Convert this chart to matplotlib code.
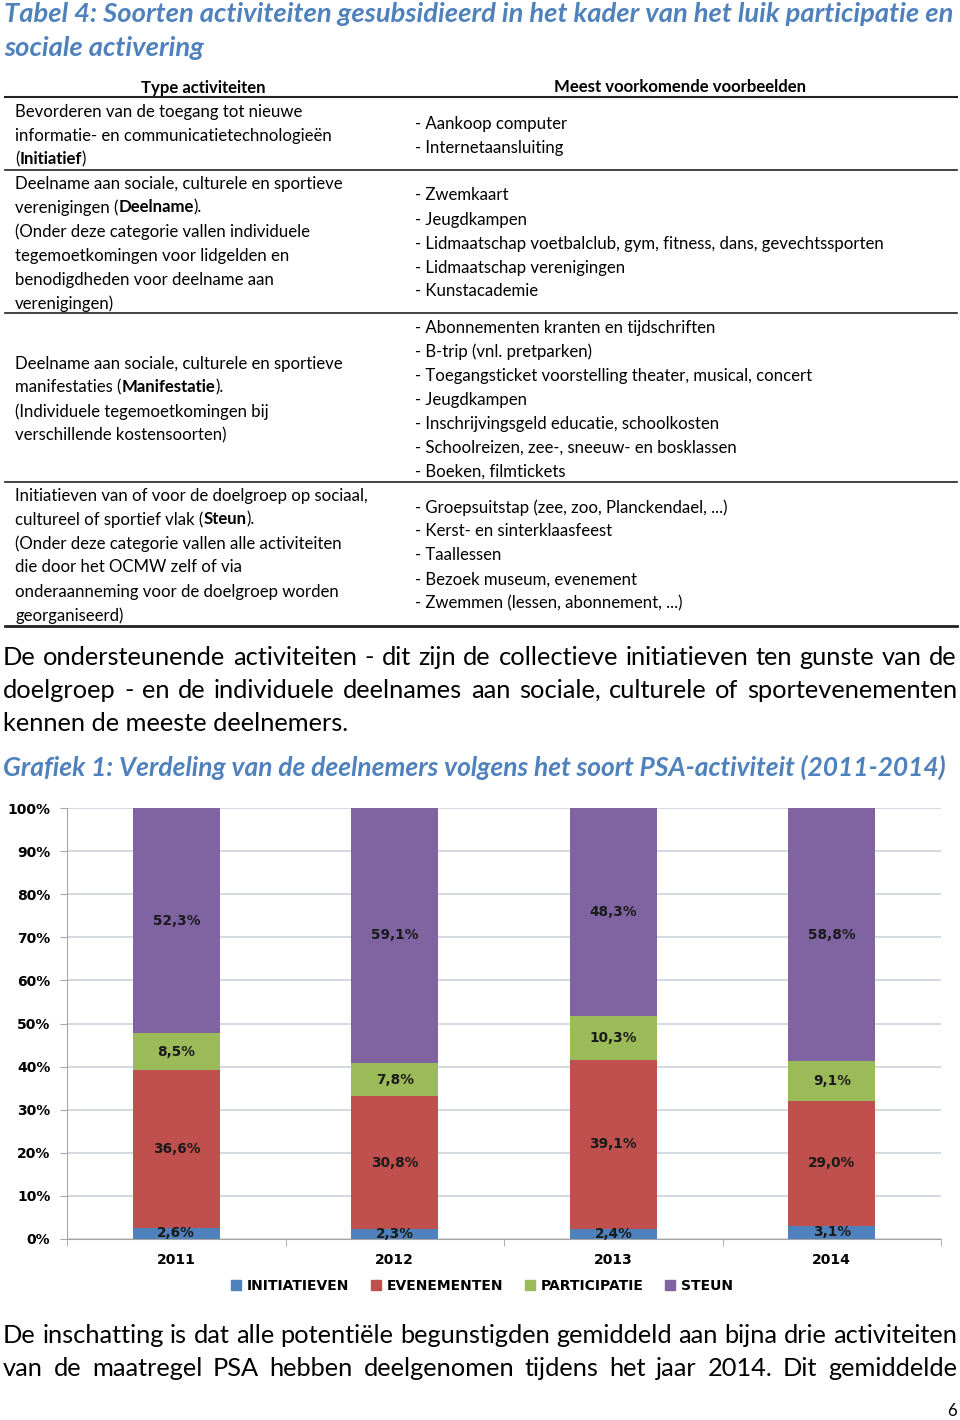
import numpy as np
import matplotlib.pyplot as plt
from matplotlib.patches import Patch

# chart data (percent of participants)
years = ['2011', '2012', '2013', '2014']
initiatieven = [2.6, 2.3, 2.4, 3.1]
evenementen = [36.6, 30.8, 39.1, 29.0]
participatie = [8.5, 7.8, 10.3, 9.1]
steun = [52.3, 59.1, 48.3, 58.8]
series_names = ['INITIATIEVEN', 'EVENEMENTEN', 'PARTICIPATIE', 'STEUN']
y_ticks = list(range(0, 101, 10))

# table texts
table_left = [
    [[('Bevorderen van de toegang tot nieuwe', 'normal')],
     [('informatie- en communicatietechnologieën', 'normal')],
     [('(', 'normal'), ('Initiatief', 'bold'), (')', 'normal')]],
    [[('Deelname aan sociale, culturele en sportieve', 'normal')],
     [('verenigingen (', 'normal'), ('Deelname', 'bold'), (').', 'normal')],
     [('(Onder deze categorie vallen individuele', 'normal')],
     [('tegemoetkomingen voor lidgelden en', 'normal')],
     [('benodigdheden voor deelname aan', 'normal')],
     [('verenigingen)', 'normal')]],
    [[('Deelname aan sociale, culturele en sportieve', 'normal')],
     [('manifestaties (', 'normal'), ('Manifestatie', 'bold'), (').', 'normal')],
     [('(Individuele tegemoetkomingen bij', 'normal')],
     [('verschillende kostensoorten)', 'normal')]],
    [[('Initiatieven van of voor de doelgroep op sociaal,', 'normal')],
     [('cultureel of sportief vlak (', 'normal'), ('Steun', 'bold'), (').', 'normal')],
     [('(Onder deze categorie vallen alle activiteiten', 'normal')],
     [('die door het OCMW zelf of via', 'normal')],
     [('onderaanneming voor de doelgroep worden', 'normal')],
     [('georganiseerd)', 'normal')]],
]
table_right = [
    ['- Aankoop computer', '- Internetaansluiting'],
    ['- Zwemkaart', '- Jeugdkampen',
     '- Lidmaatschap voetbalclub, gym, fitness, dans, gevechtssporten',
     '- Lidmaatschap verenigingen', '- Kunstacademie'],
    ['- Abonnementen kranten en tijdschriften', '- B-trip (vnl. pretparken)',
     '- Toegangsticket voorstelling theater, musical, concert', '- Jeugdkampen',
     '- Inschrijvingsgeld educatie, schoolkosten',
     '- Schoolreizen, zee-, sneeuw- en bosklassen', '- Boeken, filmtickets'],
    ['- Groepsuitstap (zee, zoo, Planckendael, ...)', '- Kerst- en sinterklaasfeest',
     '- Taallessen', '- Bezoek museum, evenement', '- Zwemmen (lessen, abonnement, ...)'],
]
left_y0 = [110, 182, 362, 494]
right_y0 = [122, 194, 326, 506]
row_lines = [170, 313, 482]

FONT = 'Lato'
TITLE_BLUE = '#4F81BD'
colors = ['#4F81BD', '#C0504D', '#9BBB59', '#8064A2']

fig = plt.figure(figsize=(9.6, 14.2), dpi=100)
bg = fig.add_axes([0, 0, 1, 1])
bg.set_xlim(0, 960)
bg.set_ylim(1420, 0)
bg.axis('off')
renderer = fig.canvas.get_renderer()


def width(t):
    return t.get_window_extent(renderer).width


def put(x, y, s, size, **kw):
    kw.setdefault('family', FONT)
    kw.setdefault('color', 'black')
    return bg.text(x, y + 1.5, s, fontsize=size, va='center', ha='left', **kw)


def fit(x, y, s, w, **kw):
    t = put(x, y, s, 12, **kw)
    t.set_fontsize(12 * w / width(t))
    return t


def rich(x, y, parts, size):
    for s, weight in parts:
        t = put(x, y, s, size, fontweight=weight)
        x += width(t)


def justify(y, line, x0, x1, size):
    words = line.split()
    ts = [put(0, y, w, size) for w in words]
    ws = [width(t) for t in ts]
    gap = (x1 - x0 - sum(ws)) / (len(words) - 1)
    x = x0
    for t, w in zip(ts, ws):
        t.set_x(x)
        x += w + gap


# titles
title_kw = dict(color=TITLE_BLUE, fontweight='bold', style='italic')
t1 = fit(4, 13, 'Tabel 4: Soorten activiteiten gesubsidieerd in het kader van het luik participatie en', 951, **title_kw)
put(4, 46, 'sociale activering', t1.get_fontsize(), **title_kw)

# table
ref = fit(15, 134, 'informatie- en communicatietechnologieën', 316)
fs_tab = ref.get_fontsize()
ref.remove()

put(203, 86, 'Type activiteiten', fs_tab, fontweight='bold').set_ha('center')
put(680, 86, 'Meest voorkomende voorbeelden', fs_tab, fontweight='bold').set_ha('center')
bg.plot([5, 957], [97, 97], color='#222222', lw=1.5)
for yl in row_lines:
    bg.plot([5, 957], [yl, yl], color='#222222', lw=1.2)
bg.plot([5, 957], [626, 626], color='#222222', lw=2)

for rows, y0 in zip(table_left, left_y0):
    for i, parts in enumerate(rows):
        rich(15, y0 + 24 * i, parts, fs_tab)
for rows, y0 in zip(table_right, right_y0):
    for i, s in enumerate(rows):
        put(415, y0 + 24 * i, s, fs_tab)

# paragraph
ref = fit(3, 722, 'kennen de meeste deelnemers.', 346)
fs_par = ref.get_fontsize()
justify(656, 'De ondersteunende activiteiten - dit zijn de collectieve initiatieven ten gunste van de', 3, 957, fs_par)
justify(689, 'doelgroep - en de individuele deelnames aan sociale, culturele of sportevenementen', 3, 957, fs_par)

fit(3, 766, 'Grafiek 1: Verdeling van de deelnemers volgens het soort PSA-activiteit (2011-2014)', 941, **title_kw)

justify(1334, 'De inschatting is dat alle potentiële begunstigden gemiddeld aan bijna drie activiteiten', 3, 957, fs_par)
justify(1367, 'van de maatregel PSA hebben deelgenomen tijdens het jaar 2014. Dit gemiddelde', 3, 957, fs_par)
put(947, 1410, '6', fs_tab)

# chart
ax = fig.add_axes([67 / 960, 1 - 1239 / 1420, (941 - 67) / 960, (1239 - 808) / 1420])
x = np.arange(len(years))
bottom = np.zeros(len(years))
for name, vals, c in zip(series_names, [initiatieven, evenementen, participatie, steun], colors):
    bars = ax.bar(x, vals, 0.4, bottom=bottom, color=c, label=name, zorder=3)
    labels = [f'{v:.1f}'.replace('.', ',') + '%' for v in vals]
    ax.bar_label(bars, labels=labels, label_type='center', fontsize=9.8,
                 fontweight='bold', color='#1a1a1a', zorder=4)
    bottom += np.array(vals)

ax.set_xlim(-0.5, 3.5)
ax.set_ylim(0, 100)
ax.set_yticks(y_ticks, [f'{v}%' for v in y_ticks])
ax.set_xticks(x, years)
ax.set_xticks(np.arange(-0.5, 4, 1), minor=True)
ax.tick_params(axis='x', which='major', length=0, pad=10)
ax.tick_params(axis='x', which='minor', length=5, color='#A6A6A6')
ax.tick_params(axis='y', length=5, color='#A6A6A6', pad=7)
for lab in ax.get_xticklabels() + ax.get_yticklabels():
    lab.set_fontweight('bold')
    lab.set_fontsize(10)
ax.yaxis.grid(True, color='#CDD2DB', lw=1.2, zorder=0)
ax.set_axisbelow(True)
for s in ['top', 'right']:
    ax.spines[s].set_visible(False)
for s in ['left', 'bottom']:
    ax.spines[s].set_color('#A6A6A6')

handles = [Patch(color=c) for c in colors]
fig.legend(handles, series_names, ncol=4, loc='center', bbox_to_anchor=(482 / 960, 1 - 1286 / 1420),
           frameon=False, handlelength=0.7, handleheight=0.7, columnspacing=1.6, handletextpad=0.4,
           prop={'weight': 'bold', 'size': 10})

fig.savefig('out.png', dpi=100)
